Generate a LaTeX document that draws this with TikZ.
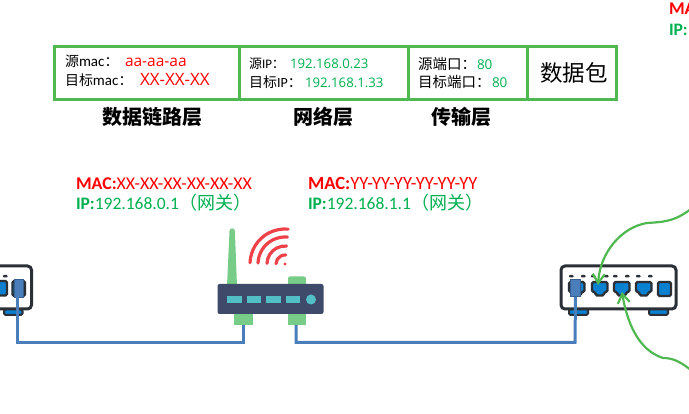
\documentclass[tikz,border=0pt]{standalone}
\usepackage{fontspec}
\usetikzlibrary{arrows.meta}
\setmainfont{Noto Sans CJK SC}
\newfontfamily\lat{Carlito}
\newfontfamily\tah{Open Sans}
\newcommand\fwc{\char"FF1A\relax}
\newcommand\fwl{\char"FF08\relax}
\newcommand\fwr{\char"FF09\relax}
\definecolor{boxgreen}{HTML}{50B850}
\definecolor{txtgreen}{HTML}{00B050}
\definecolor{routerbody}{HTML}{3F4A6B}
\definecolor{routerteal}{HTML}{52BFC6}
\definecolor{routerleaf}{HTML}{77CC88}
\definecolor{wifi}{HTML}{EF4148}
\definecolor{wire}{HTML}{4A7EBB}
\definecolor{swline}{HTML}{2B2F36}
\definecolor{swblue}{HTML}{0A80D0}
\tikzset{
  x=1pt,y=-1pt,
  cell/.style={draw=boxgreen,line width=3pt,fill=white},
  txt/.style={anchor=base west,inner sep=0pt,outer sep=0pt,text=black},
  title/.style={anchor=base,inner sep=0pt,font=\bfseries\fontsize{20}{20}\selectfont,text=black},
  wireline/.style={draw=wire,line width=3pt},
  link/.style={draw=boxgreen,line width=2.2pt,-{Straight Barb[length=9pt,width=12pt,line width=2.2pt]}},
  swbody/.style={draw=swline,line width=3pt,fill=white,rounded corners=4pt},
  swport/.style={draw=swline,line width=2.4pt,fill=swblue,rounded corners=1.5pt},
  swfoot/.style={draw=swline,line width=2pt,fill=swblue,rounded corners=1.5pt},
  swdot/.style={fill=swline,rounded corners=0.8pt},
  plug/.style={fill=wire,draw=wire!75!black,line width=0.6pt},
  wifiarc/.style={draw=wifi,line width=3.2pt,line cap=round},
}
\begin{document}
\begin{tikzpicture}
\useasboundingbox (0,0) rectangle (689,414);
\clip (0,0) rectangle (689,414);

% packet header
\draw[cell] (54,47) rectangle (239,100);
\draw[cell] (239,47) rectangle (408,100);
\draw[cell] (408,47) rectangle (527,100);
\draw[cell] (527,47) rectangle (616,100);

\node[txt] (srcmac) at (65,67) {\fontsize{14}{14}\selectfont 源{\lat\fontsize{15}{15}\selectfont mac}\fwc};
\node[txt,text=red] (srcmacv) at (125,67) {\tah\fontsize{15.5}{14}\selectfont aa-aa-aa};
\node[txt] (dstmac) at (65,86) {\fontsize{14}{14}\selectfont 目标{\lat\fontsize{15}{15}\selectfont mac}\fwc};
\node[txt,text=red] (dstmacv) at (140,86) {\tah\fontsize{17}{14}\selectfont XX-XX-XX};

\node[txt] (srcip) at (249,69) {\fontsize{13}{13}\selectfont 源{\lat IP}\fwc};
\node[txt,text=txtgreen] (srcipv) at (290,69) {\tah\fontsize{13.2}{12}\selectfont 192.168.0.23};
\node[txt] (dstip) at (249,88) {\fontsize{14}{14}\selectfont 目标{\lat IP}\fwc};
\node[txt,text=txtgreen] (dstipv) at (305,88) {\tah\fontsize{13.2}{12}\selectfont 192.168.1.33};

\node[txt] (srcport) at (418,70) {\fontsize{14.5}{14}\selectfont 源端口\fwc};
\node[txt,text=txtgreen] (srcportv) at (477,70) {\tah\fontsize{13.5}{12}\selectfont 80};
\node[txt] (dstport) at (418,88) {\fontsize{14.5}{14}\selectfont 目标端口\fwc};
\node[txt,text=txtgreen] (dstportv) at (492,88) {\tah\fontsize{13.5}{12}\selectfont 80};

\node[txt] (payload) at (540,82) {\fontsize{22.5}{22}\selectfont 数据包};

\node[title] (t1) at (152,125) {数据链路层};
\node[title] (t2) at (323,125) {网络层};
\node[title] (t3) at (461,125) {传输层};

% address labels
\node[txt,text=red] (mac1) at (76,190) {\lat\fontsize{17.9}{16}\selectfont\textbf{MAC:}XX-XX-XX-XX-XX-XX};
\node[txt,text=txtgreen] (ip1) at (76,210) {\lat\fontsize{17.5}{16}\selectfont\textbf{IP:}192.168.0.1{\rmfamily\fontsize{18}{16}\selectfont\fwl 网关\fwr}};
\node[txt,text=red] (mac2) at (308,190) {\lat\fontsize{18.6}{16}\selectfont\textbf{MAC:}YY-YY-YY-YY-YY-YY};
\node[txt,text=txtgreen] (ip2) at (308,210) {\lat\fontsize{17.5}{16}\selectfont\textbf{IP:}192.168.1.1{\rmfamily\fontsize{18}{16}\selectfont\fwl 网关\fwr}};
\node[txt,text=red] (mac3) at (669,15) {\lat\fontsize{17.9}{16}\selectfont\textbf{MA}};
\node[txt,text=txtgreen] (ip3) at (669,36) {\lat\fontsize{17.5}{16}\selectfont\textbf{IP:}};

% router
\fill[routerleaf] (227,286) -- (229.5,231) arc[start angle=180,end angle=360,radius=2.7] -- (237,286) -- cycle;
\fill[routerleaf,rounded corners=2pt] (288,286) -- (288,276.5) -- (306,276.5) -- (306,286) -- cycle;
\fill[routerleaf] (234,312) rectangle (253,325);
\fill[routerleaf] (288,312) rectangle (306,325);
\node[fill=routerbody,rounded corners=2pt,minimum width=106pt,minimum height=30pt,inner sep=0pt] (router) at (270.5,299) {};
\node[anchor=north,inner sep=0pt,minimum width=1pt,minimum height=1pt] (rleft) at (243.5,325) {};
\node[anchor=north,inner sep=0pt,minimum width=1pt,minimum height=1pt] (rright) at (296,325) {};
\fill[routerteal] (227,296) rectangle (242,303);
\fill[routerteal] (247,296) rectangle (261,303);
\fill[routerteal] (266,296) rectangle (281,303);
\fill[routerteal] (286,296) rectangle (300,303);
\fill[routerteal] (311,299.5) circle (5);
% wifi
\fill[wifi] (285,264) circle (1.6);
\foreach \r in {9,18,27,35}
  \draw[wifiarc] (285,264) ++(182:\r) arc[start angle=182,end angle=275,radius=\r];

% left switch (cut by the edge)
\draw[swbody] (-30,266) rectangle (31.5,309);
\draw[swfoot] (4,309.5) rectangle (22.5,315);
\draw[swport] (-10,281) rectangle (7,295.5);
\fill[swdot] (3,275) rectangle (7.5,277.5);
\draw[swport] (12.5,281) rectangle (25,296);
\node[plug,minimum width=9pt,minimum height=18pt,inner sep=0pt] (lplug) at (19,288) {};

% right switch
\draw[swfoot] (569,309) rectangle (588,315);
\draw[swfoot] (649,309) rectangle (668,315);
\draw[swbody] (561,266) rectangle (676,309);
\foreach \x in {569,592,614,636}
  \draw[swport] (\x,282) -- ++(15.5,0) -- ++(0,10) -- ++(-3.5,0) -- ++(0,3.5) -- ++(-8.5,0) -- ++(0,-3.5) -- ++(-3.5,0) -- cycle;
\draw[swport] (658,282) rectangle (671,296);
\foreach \x in {569,581,591,604,613,625,636,648}
  \fill[swdot] (\x,275) rectangle ++(4.5,2.5);
\node[plug,minimum width=10pt,minimum height=17pt,inner sep=0pt] (rplug) at (575.5,288) {};
\coordinate (port2) at (598,285);
\coordinate (port3) at (622,292);

% wires
\draw[wireline] (lplug.south) ++(-1.5,0) -- (17.5,343) -- (243.5,343) -- (rleft.north);
\draw[wireline] (rright.north) -- (296,342.5) -- (575,342.5) -- (rplug.south);

% green arrows
\coordinate (ua) at (692,208);
\coordinate (ub) at (692,371);
\draw[link] (ua) .. controls (675,222) and (662,222) .. (647,223) .. controls (622,227) and (600,252) .. (port2);
\draw[link] (ub) .. controls (680,361) and (672,358) .. (663,358) .. controls (638,350) and (627,322) .. (port3);
\end{tikzpicture}
\end{document}
